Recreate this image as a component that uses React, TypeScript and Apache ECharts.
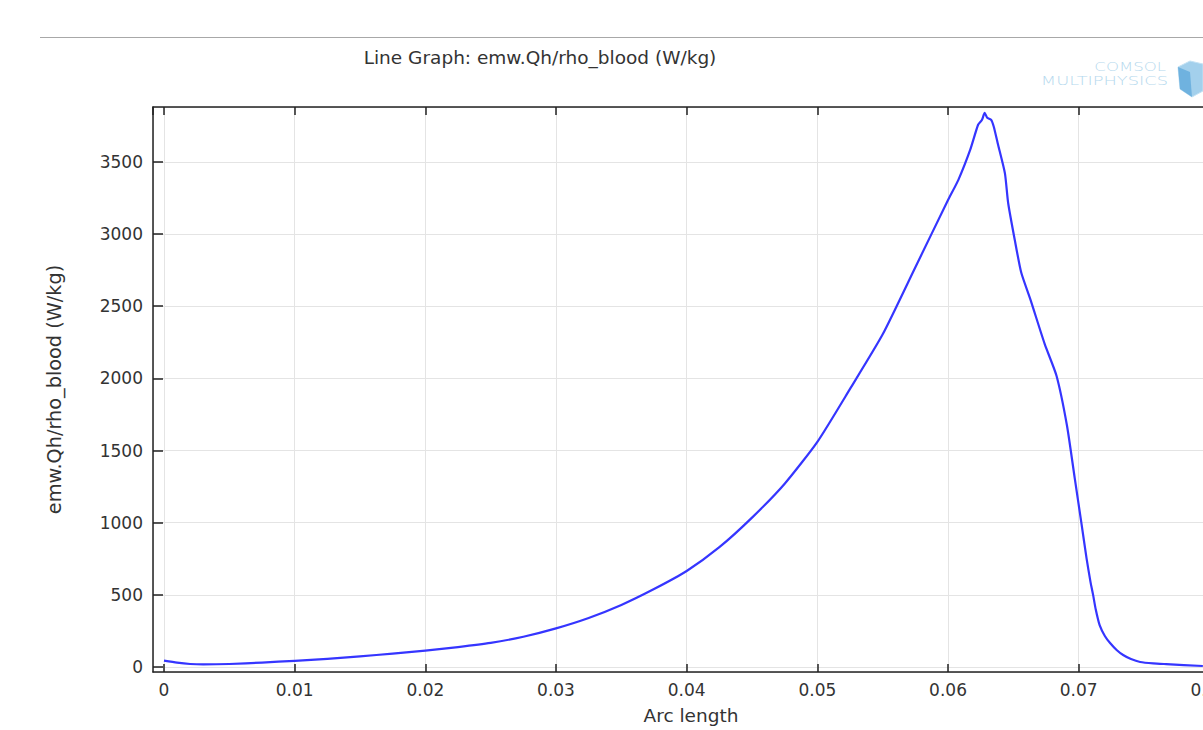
import React, { useEffect, useRef } from "react";
import * as echarts from "echarts";

// Arc length (x) values
const arcLength = [
  0, 0.001, 0.002, 0.003, 0.005, 0.0075, 0.01, 0.0125, 0.015, 0.0175, 0.02,
  0.0225, 0.025, 0.0275, 0.03, 0.0325, 0.035, 0.0375, 0.04, 0.0425, 0.045,
  0.0475, 0.05, 0.0525, 0.055, 0.0575, 0.06, 0.0608, 0.0617, 0.0623, 0.0626,
  0.0628, 0.063, 0.0633, 0.0635, 0.0638, 0.06435, 0.0646, 0.0651, 0.0656,
  0.0663, 0.0674, 0.0683, 0.0691, 0.0697, 0.0702, 0.0706, 0.0709, 0.0711,
  0.0713, 0.0716, 0.072, 0.0724, 0.0729, 0.0734, 0.074, 0.0747, 0.0757, 0.0767,
  0.0795,
];

// emw.Qh/rho_blood (W/kg) values
const heating = [
  44, 30, 21, 18, 21, 31, 43, 57, 74, 93, 114, 138, 167, 210, 268, 340, 430,
  540, 665, 830, 1035, 1270, 1560, 1927, 2305, 2770, 3235, 3377, 3584, 3757,
  3791, 3840, 3805, 3791, 3743, 3629, 3422, 3215, 2962, 2733, 2547, 2237, 2018,
  1673, 1305, 1000, 753, 590, 500, 400, 290, 215, 166, 118, 83, 55, 35, 25, 20,
  7,
];

const titleText = "Line Graph: emw.Qh/rho_blood (W/kg)";
const xName = "Arc length";
const yName = "emw.Qh/rho_blood (W/kg)";

const FONT = "DejaVu Sans";

export default function App() {
  const ref = useRef<HTMLDivElement>(null);

  useEffect(() => {
    if (!ref.current) return;
    const chart = echarts.init(ref.current, null, { renderer: "svg" });
    const points = arcLength.map((x, i) => [x, heating[i]]);

    const xFmt = (v: number) => {
      const k = v / 0.01;
      if (Math.abs(k - Math.round(k)) > 1e-6) return "";
      return String(Math.round(k) / 100);
    };
    const yFmt = (v: number) => {
      const k = v / 500;
      if (Math.abs(k - Math.round(k)) > 1e-6) return "";
      return String(Math.round(k) * 500);
    };

    const xMin = -0.00084;
    const xMax = 0.0815;
    const yMin = -34.5;
    const yMax = 3880;

    chart.setOption({
      animation: false,
      backgroundColor: "#ffffff",
      grid: { left: 153, top: 107, width: 1076, height: 567, containLabel: false },
      xAxis: [
        {
          type: "value",
          min: xMin,
          max: xMax,
          splitNumber: 8,
          position: "bottom",
          name: xName,
          nameLocation: "middle",
          nameGap: 34,
          nameTextStyle: { fontFamily: FONT, fontSize: 18.5, color: "#333" },
          axisLine: { show: true, onZero: false, lineStyle: { color: "#222", width: 1.5 } },
          axisTick: { show: true, inside: true, length: 8, lineStyle: { color: "#222", width: 1.5 } },
          axisLabel: {
            formatter: xFmt,
            showMinLabel: false,
            showMaxLabel: false,
            margin: 9,
            fontFamily: FONT,
            fontSize: 17,
            color: "#333",
          },
          splitLine: { show: true, lineStyle: { color: "#e4e4e4", width: 1 } },
        },
        {
          type: "value",
          min: xMin,
          max: xMax,
          splitNumber: 8,
          position: "top",
          axisLine: { show: true, onZero: false, lineStyle: { color: "#222", width: 1.5 } },
          axisTick: { show: true, inside: true, length: 8, lineStyle: { color: "#222", width: 1.5 } },
          axisLabel: { show: false },
          splitLine: { show: false },
        },
      ],
      yAxis: [
        {
          type: "value",
          min: yMin,
          max: yMax,
          splitNumber: 8,
          position: "left",
          name: yName,
          nameLocation: "middle",
          nameGap: 89,
          nameRotate: 90,
          nameTextStyle: { fontFamily: FONT, fontSize: 19.3, color: "#333" },
          axisLine: { show: true, onZero: false, lineStyle: { color: "#222", width: 1.5 } },
          axisTick: { show: true, inside: true, length: 10, lineStyle: { color: "#222", width: 1.5 } },
          axisLabel: {
            formatter: yFmt,
            showMinLabel: false,
            showMaxLabel: false,
            margin: 10,
            fontFamily: FONT,
            fontSize: 17,
            color: "#333",
          },
          splitLine: { show: true, lineStyle: { color: "#e4e4e4", width: 1 } },
        },
        {
          type: "value",
          min: yMin,
          max: yMax,
          splitNumber: 8,
          position: "right",
          axisLine: { show: true, onZero: false, lineStyle: { color: "#222", width: 1.5 } },
          axisTick: { show: false },
          axisLabel: { show: false },
          splitLine: { show: false },
        },
      ],
      series: [
        {
          type: "line",
          data: points,
          xAxisIndex: 0,
          yAxisIndex: 0,
          showSymbol: false,
          symbol: "none",
          smooth: 0.2,
          lineStyle: { color: "#3535ff", width: 2.2, join: "round" },
        },
      ],
      graphic: [
        {
          type: "line",
          shape: { x1: 40, y1: 37.5, x2: 1203, y2: 37.5 },
          style: { stroke: "#a8a8a8", lineWidth: 1 },
          silent: true,
        },
        {
          type: "text",
          x: 540,
          y: 57,
          style: {
            text: titleText,
            fontFamily: FONT,
            fontSize: 18.5,
            fill: "#333",
            textAlign: "center",
            textVerticalAlign: "middle",
          },
        },
        {
          type: "text",
          x: 1166,
          y: 67,
          scaleX: 1.38,
          style: {
            text: "COMSOL",
            fontFamily: FONT,
            fontWeight: 200,
            fontSize: 12,
            fill: "#b6d9ee",
            textAlign: "right",
            textVerticalAlign: "middle",
          },
        },
        {
          type: "text",
          x: 1168,
          y: 81,
          scaleX: 1.37,
          style: {
            text: "MULTIPHYSICS",
            fontFamily: FONT,
            fontWeight: 200,
            fontSize: 13,
            fill: "#b6d9ee",
            textAlign: "right",
            textVerticalAlign: "middle",
          },
        },
        {
          type: "polygon",
          shape: {
            points: [
              [1190, 61],
              [1203, 64],
              [1203, 91],
              [1192, 97],
              [1180, 89],
              [1178, 67],
            ],
          },
          style: { fill: "#a3d0ec", stroke: "#c4e2f4", lineWidth: 1 },
        },
        {
          type: "polygon",
          shape: {
            points: [
              [1178, 67],
              [1190, 72],
              [1192, 97],
              [1180, 89],
            ],
          },
          style: { fill: "#6fb2df" },
        },
      ],
    });

    return () => chart.dispose();
  }, []);

  return (
    <div
      style={{
        position: "fixed",
        left: 0,
        top: 0,
        width: 1203,
        height: 730,
        overflow: "hidden",
        background: "#fff",
      }}
    >
      <div ref={ref} style={{ width: 1300, height: 730 }} />
    </div>
  );
}
